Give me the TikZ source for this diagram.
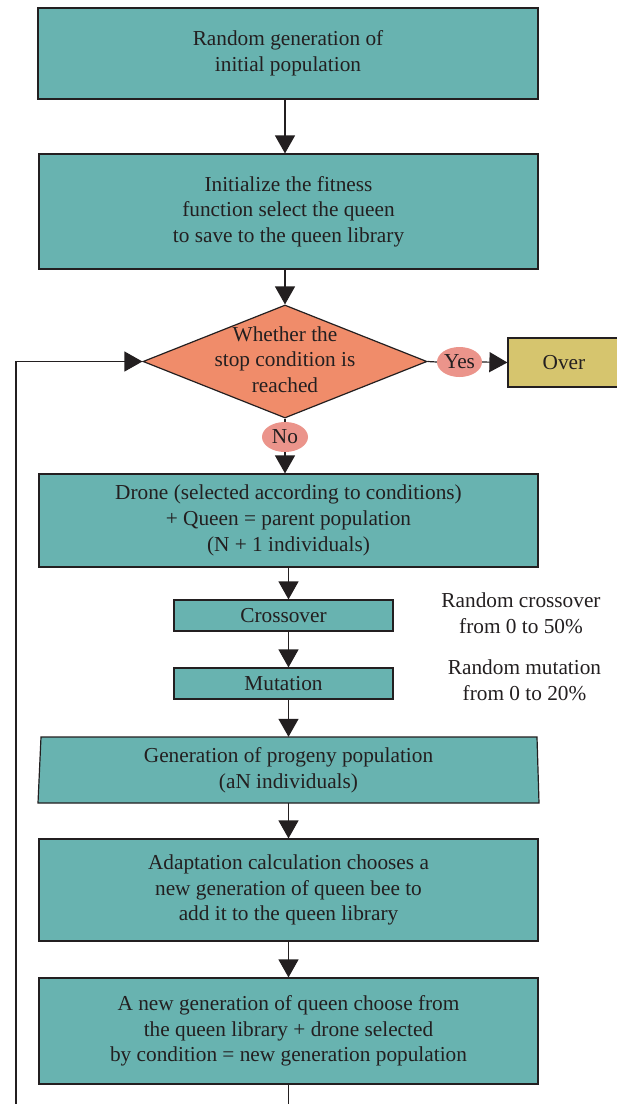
\documentclass[tikz,border=0pt]{standalone}
\usepackage{fontspec}
\setmainfont{Liberation Serif}
\usetikzlibrary{shapes.geometric,arrows.meta}
\definecolor{ink}{HTML}{231F20}
\definecolor{tealf}{HTML}{68B3B0}
\definecolor{diaf}{HTML}{F08C6A}
\definecolor{ellf}{HTML}{EB948B}
\definecolor{overf}{HTML}{D6C56E}
\begin{document}
\begin{tikzpicture}[x=1pt,y=-1pt,
  every node/.style={font=\fontsize{21.3}{25.7}\selectfont, text=ink, align=center},
  box/.style={draw=ink, line width=1.2pt, fill=tealf, inner sep=0pt},
  dia/.style={diamond, draw=ink, line width=1.2pt, fill=diaf, inner sep=0pt, aspect=2.5},
  lab/.style={ellipse, fill=ellf, inner sep=0pt},
  arr/.style={draw=ink, line width=1.2pt, -{Triangle[length=18pt,width=20pt]}},
  ln/.style={draw=ink, line width=1.2pt}]
\useasboundingbox (0,0) rectangle (617,1104);
\fill[white] (0,0) rectangle (617,1104);

\node[box, minimum width=500pt, minimum height=91pt] (b1) at (288,53.5) {Random generation of\\initial population};
\node[box, minimum width=499pt, minimum height=115pt] (b2) at (288.5,211.5) {Initialize the fitness\\function select the queen\\to save to the queen library};
\node[dia, minimum width=284pt, minimum height=113pt] (d) at (285,361.5) {};
\node (dt) at (285,359.5) {Whether the\\stop condition is\\reached};
\node[lab, minimum width=45pt, minimum height=30pt] (yes) at (459.5,362) {Yes};
\node[box, fill=overf, minimum width=112pt, minimum height=49pt] (over) at (564,362.5) {Over};
\node[lab, minimum width=46pt, minimum height=30pt] (no) at (285,437) {No};
\node[box, minimum width=499pt, minimum height=93pt] (b3) at (288.5,520.5) {Drone (selected according to conditions)\\+ Queen = parent population\\(N + 1 individuals)};
\node[box, minimum width=219pt, minimum height=31pt] (cross) at (283.5,615.5) {Crossover};
\node[box, minimum width=219pt, minimum height=31pt] (mut) at (283.5,683.5) {Mutation};
\draw[box] (41,737) -- (537,737) -- (539,803) -- (38,803) -- cycle;
\node[inner sep=0pt, minimum width=499pt, minimum height=66pt] (prog) at (288.5,770) {Generation of progeny population\\(aN individuals)};
\node[box, minimum width=499pt, minimum height=102pt] (b5) at (288.5,890) {Adaptation calculation chooses a\\new generation of queen bee to\\add it to the queen library};
\node[box, minimum width=499pt, minimum height=106pt] (b6) at (288.5,1031) {A new generation of queen choose from\\the queen library + drone selected\\by condition = new generation population};

\node (ac) at (521,613) {Random crossover\\from 0 to 50\%};
\node (am) at (524.5,680.5) {Random mutation\\from 0 to 20\%};

\draw[arr] (b1.south -| d.north) -- (b2.north -| d.north);
\draw[arr] (b2.south -| d.north) -- (d.north);
\draw[ln] (d.east) -- (yes.west);
\draw[arr] (yes.east) -- (over.west);
\draw[ln] (d.south) -- (no.north);
\draw[arr] (no.south) -- (b3.north -| no.south);
\draw[arr] (b3.south) -- (cross.north -| b3.south);
\draw[arr] (cross.south -| b3.south) -- (mut.north -| b3.south);
\draw[arr] (mut.south -| b3.south) -- (prog.north);
\draw[arr] (prog.south) -- (b5.north);
\draw[arr] (b5.south) -- (b6.north);
\coordinate (lb) at (16,1140);
\coordinate (lt) at (d.west -| lb);
\draw[arr] (b6.south) -- (b6.south |- lb) -- (lb) -- (lt) -- (d.west);
\end{tikzpicture}
\end{document}
